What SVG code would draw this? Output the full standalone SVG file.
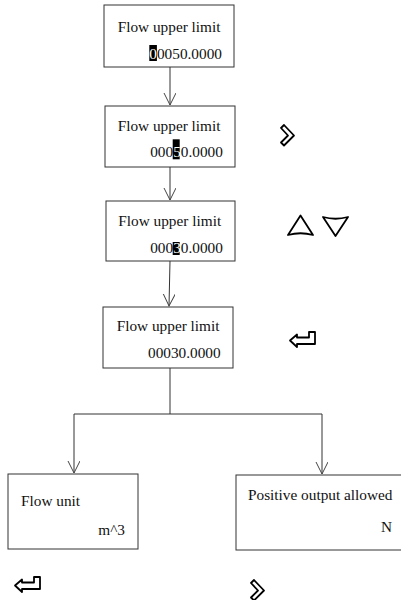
<svg xmlns="http://www.w3.org/2000/svg" xmlns:xlink="http://www.w3.org/1999/xlink" width="401" height="600" viewBox="0 0 401 600">
<style>
.box{fill:#fff;stroke:#333;stroke-width:1}
.t{font-family:"Liberation Serif","Times New Roman",serif;font-size:15.3px;fill:#111}
.w{fill:#fff}
.hl{fill:#000}
.conn{fill:none;stroke:#333;stroke-width:1}
.icon{fill:none;stroke:#000;stroke-width:1.8;stroke-linejoin:round}
</style>
<defs>
<marker id="arr" markerWidth="14" markerHeight="14" refX="12" refY="6" orient="auto" markerUnits="userSpaceOnUse">
<path d="M0,0 L12,6 L0,12" fill="none" stroke="#444" stroke-width="1"/>
</marker>
<path id="chev" class="icon" d="M281,128 L284,125 L294,135.5 L284,145.5 L281,142.5 L288,135.5 Z"/>
<path id="enter" class="icon" d="M290,340.5 L297,334.5 L297,337.5 L309,337.5 L309,332 L315,332 L315,344 L297,344 L297,347 Z"/>
</defs>
<g id="connectors">
<line class="conn" x1="170" y1="67" x2="170" y2="105" marker-end="url(#arr)"/>
<line class="conn" x1="170" y1="167" x2="170" y2="200" marker-end="url(#arr)"/>
<line class="conn" x1="170" y1="261" x2="169" y2="306" marker-end="url(#arr)"/>
<polyline class="conn" points="170,368 170,414"/>
<line class="conn" x1="74" y1="414" x2="322" y2="414"/>
<line class="conn" x1="74" y1="414" x2="74" y2="473" marker-end="url(#arr)"/>
<line class="conn" x1="322" y1="414" x2="322" y2="474" marker-end="url(#arr)"/>
</g>
<g id="n1">
<rect class="box" x="104" y="5" width="130" height="62"/>
<text class="t" x="117.7" y="31.7">Flow upper limit</text>
<rect class="hl" x="149.3" y="45" width="7.6" height="16"/>
<text class="t" x="149.3" y="59.3"><tspan class="w">0</tspan>0050.0000</text>
</g>
<g id="n2">
<rect class="box" x="105" y="106" width="130" height="61"/>
<text class="t" x="117.7" y="130.7">Flow upper limit</text>
<rect class="hl" x="172.7" y="139.3" width="7" height="20"/>
<text class="t" x="150.2" y="157.3">000<tspan class="w">5</tspan>0.0000</text>
</g>
<g id="n3">
<rect class="box" x="106" y="201" width="129" height="60"/>
<text class="t" x="118.3" y="225.7">Flow upper limit</text>
<rect class="hl" x="172.7" y="242" width="7" height="13"/>
<text class="t" x="150.2" y="252.7">000<tspan class="w">3</tspan>0.0000</text>
</g>
<g id="n4">
<rect class="box" x="103" y="307" width="130" height="61"/>
<text class="t" x="116.7" y="330.7">Flow upper limit</text>
<text class="t" x="148" y="358.3">00030.0000</text>
</g>
<g id="n5">
<rect class="box" x="8" y="474" width="130" height="75"/>
<text class="t" x="21" y="505.5">Flow unit</text>
<text class="t" x="125" y="535" text-anchor="end">m^3</text>
</g>
<g id="n6">
<rect class="box" x="236" y="475" width="170" height="75"/>
<text class="t" x="248" y="500">Positive output allowed</text>
<text class="t" x="392" y="531.7" text-anchor="end">N</text>
</g>
<g id="icons">
<use xlink:href="#chev"/>
<path class="icon" d="M288,235 L300.5,215.5 L313,235 Q300.5,231.5 288,235 Z"/>
<path class="icon" d="M323,217 Q335.5,220.5 348,217 L335.5,236 Z"/>
<use xlink:href="#enter"/>
<use xlink:href="#enter" transform="translate(-275,245)"/>
<use xlink:href="#chev" transform="translate(-30,455)"/>
</g>
</svg>
